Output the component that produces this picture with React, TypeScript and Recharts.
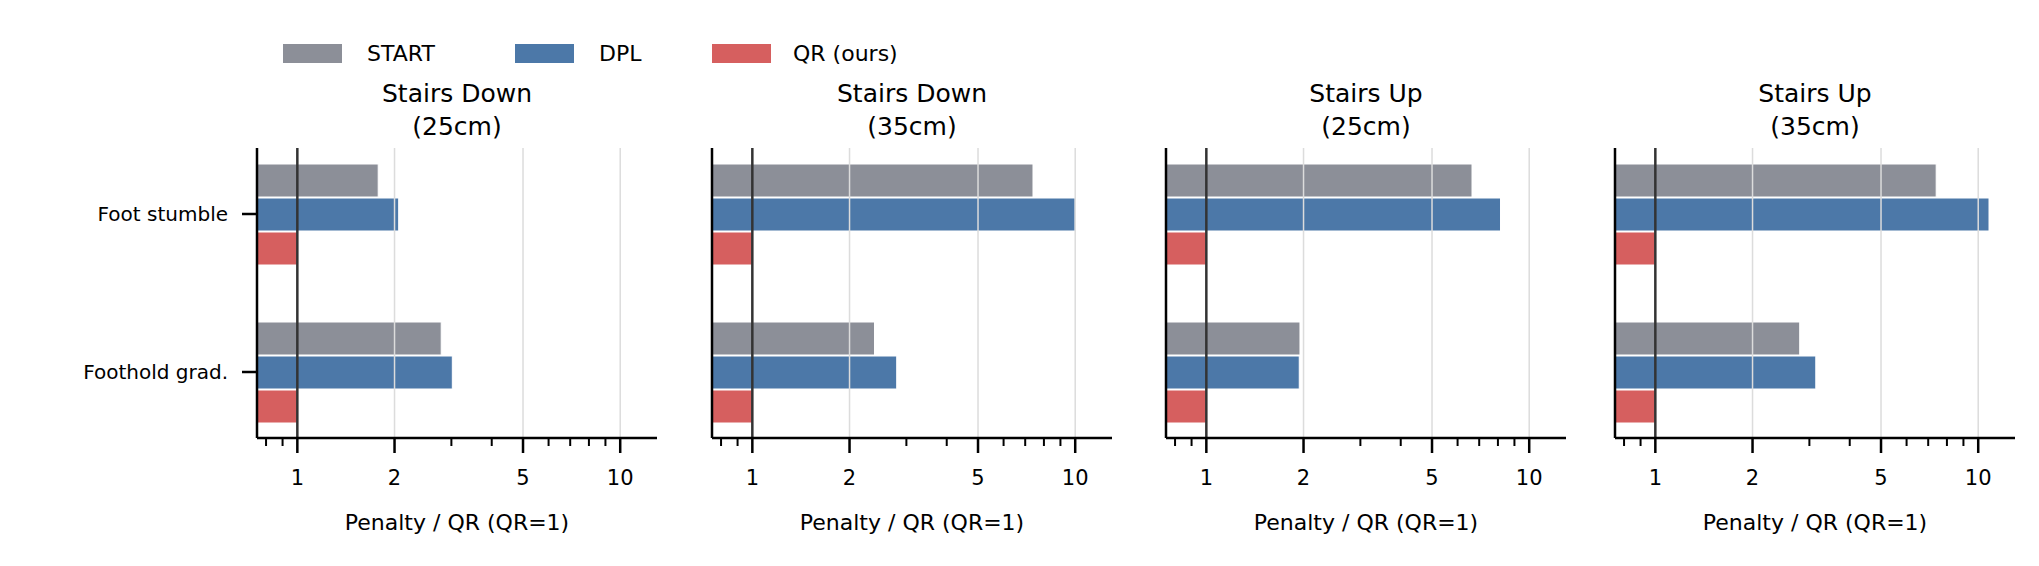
import React from "react";
import { BarChart, Bar, XAxis, YAxis, ReferenceLine } from "recharts";

const categories = ["Foot stumble", "Foothold grad."];
const panelTitles = [["Stairs Down", "(25cm)"], ["Stairs Down", "(35cm)"], ["Stairs Up", "(25cm)"], ["Stairs Up", "(35cm)"]];
const startVals = [[1.78, 2.79], [7.4, 2.39], [6.65, 1.95], [7.41, 2.8]];
const dplVals = [[2.06, 3.02], [10.0, 2.8], [8.15, 1.94], [10.8, 3.14]];
const qrVals = [[1, 1], [1, 1], [1, 1], [1, 1]];
const xTicks = [0.8, 0.9, 1, 2, 3, 4, 5, 6, 7, 8, 9, 10];
const majorTicks = [1, 2, 5, 10];
const seriesNames = ["START", "DPL", "QR (ours)"];
const colors = ["#8c8f98", "#4c78a8", "#d65f5f"];

const spineX = [257, 712, 1166, 1615];
const plotW = 400;
const FONT = "'DejaVu Sans', sans-serif";

const XTick = (props: any) => {
  const { x, y, payload } = props;
  const major = majorTicks.includes(payload.value);
  return (
    <g>
      <line x1={x} x2={x} y1={y} y2={y + (major ? 15 : 8)} stroke="#000" strokeWidth={major ? 2.5 : 2} />
      {major && (
        <text x={x} y={y + 40} textAnchor="middle" dominantBaseline="central" fontSize={21} fontFamily={FONT} fill="#000">
          {payload.value}
        </text>
      )}
    </g>
  );
};

function Panel({ idx }: { idx: number }) {
  const data = categories.map((c, i) => ({
    cat: c,
    start: startVals[idx][i],
    dpl: dplVals[idx][i],
    qr: qrVals[idx][i],
  }));
  const left = spineX[idx] - 257;
  return (
    <div style={{ position: "absolute", left, top: 0 }}>
      <BarChart
        width={257 + plotW + 10}
        height={566}
        data={data}
        layout="vertical"
        margin={{ top: 148, right: 10, bottom: 0, left: 0 }}
        barSize={33}
        barGap={1}
      >
        <XAxis
          type="number"
          scale="log"
          domain={[0.75, 13]}
          allowDataOverflow
          ticks={xTicks}
          interval={0}
          tick={<XTick />}
          tickLine={false}
          tickSize={0}
          tickMargin={0}
          height={128}
          axisLine={{ stroke: "#000", strokeWidth: 2.5 }}
        />
        <YAxis
          type="category"
          dataKey="cat"
          width={257}
          padding={{ top: -13, bottom: -13 }}
          tickSize={15}
          tickMargin={14}
          tickLine={{ stroke: "#000", strokeWidth: 2.5 }}
          axisLine={{ stroke: "#000", strokeWidth: 2.5 }}
          tick={idx === 0 ? { fontSize: 20, fontFamily: FONT, fill: "#000" } : false}
        />
        {[2, 5, 10].map((v) => (
          <ReferenceLine key={v} x={v} stroke="#dcdcdc" strokeWidth={1.5} />
        ))}
        <Bar dataKey="start" fill={colors[0]} stroke="#fff" strokeWidth={1} isAnimationActive={false} />
        <Bar dataKey="dpl" fill={colors[1]} stroke="#fff" strokeWidth={1} isAnimationActive={false} />
        <Bar dataKey="qr" fill={colors[2]} stroke="#fff" strokeWidth={1} isAnimationActive={false} />
        <ReferenceLine x={1} stroke="#333" strokeWidth={2.5} />
      </BarChart>
      {panelTitles[idx].map((t, j) => (
        <div
          key={j}
          style={{
            position: "absolute",
            left: 257,
            width: plotW,
            top: 94 + j * 33 - 16,
            height: 32,
            lineHeight: "32px",
            textAlign: "center",
            fontSize: 25,
            fontFamily: FONT,
            color: "#000",
          }}
        >
          {t}
        </div>
      ))}
      <div
        style={{
          position: "absolute",
          left: 257,
          width: plotW,
          top: 523 - 15,
          height: 30,
          lineHeight: "30px",
          textAlign: "center",
          fontSize: 22,
          fontFamily: FONT,
          color: "#000",
        }}
      >
        Penalty / QR (QR=1)
      </div>
    </div>
  );
}

const legendPos = [
  [283, 367],
  [515, 599],
  [712, 793],
];

export default function App() {
  return (
    <div style={{ position: "absolute", left: 0, top: 0, width: 2039, height: 566, background: "#fff", overflow: "hidden" }}>
      {[0, 1, 2, 3].map((i) => (
        <Panel key={i} idx={i} />
      ))}
      {seriesNames.map((n, i) => (
        <React.Fragment key={n}>
          <div style={{ position: "absolute", left: legendPos[i][0], top: 44, width: 59, height: 19, background: colors[i] }} />
          <div
            style={{
              position: "absolute",
              left: legendPos[i][1],
              top: 54 - 15,
              height: 30,
              lineHeight: "30px",
              fontSize: 22,
              fontFamily: FONT,
              color: "#000",
              whiteSpace: "nowrap",
            }}
          >
            {n}
          </div>
        </React.Fragment>
      ))}
    </div>
  );
}
